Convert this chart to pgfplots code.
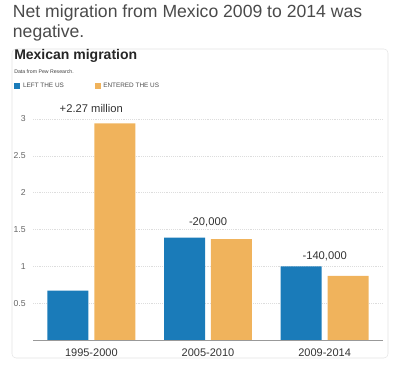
\documentclass[border=0pt]{standalone}
\usepackage{fontspec}
\setmainfont{Liberation Sans}
\usepackage{pgfplots}
\pgfplotsset{compat=1.18}
\definecolor{barblue}{HTML}{1A7BB9}
\definecolor{barorange}{HTML}{F0B35C}
\definecolor{titlegray}{HTML}{4A4A4A}
\definecolor{cardgray}{HTML}{E4E4E4}
\definecolor{gridgray}{HTML}{DDDDDD}
\definecolor{tickgray}{HTML}{666666}
\begin{document}
\begin{tikzpicture}
\useasboundingbox (0,0) rectangle (300pt,274.5pt);
\node[anchor=base west, inner sep=0, text=titlegray, font=\fontsize{13.2}{15}\selectfont] at (9.5pt,261pt) {Net migration from Mexico 2009 to 2014 was};
\node[anchor=base west, inner sep=0, text=titlegray, font=\fontsize{13.2}{15}\selectfont] at (9.5pt,246pt) {negative.};
\draw[cardgray, rounded corners=3pt] (9pt,6pt) rectangle (291pt,237.75pt);
\node[anchor=base west, inner sep=0, text=black!85, font=\bfseries\fontsize{10.5}{12}\selectfont] at (10.5pt,229.5pt) {Mexican migration};
\node[anchor=base west, inner sep=0, text=black!75, font=\fontsize{3.9}{4.5}\selectfont] at (10.5pt,219pt) {Data from Pew Research.};
\begin{axis}[
  at={(24.75pt,19.5pt)}, anchor=south west,
  scale only axis, width=262.5pt, height=176.9pt,
  xmin=-0.5, xmax=2.5, ymin=0, ymax=3.2,
  xtick={0,1,2}, xticklabels={1995-2000,2005-2010,2009-2014},
  ytick={0.5,1,1.5,2,2.5,3},
  /pgf/number format/assume math mode=true,
  yticklabel style={font=\fontsize{6.5}{7}\selectfont, text=tickgray},
  xticklabel style={font=\fontsize{8.25}{9}\selectfont, text=black!80},
  major tick length=0pt,
  axis x line*=bottom, axis y line*=left,
  y axis line style={draw=none},
  x axis line style={draw=black!40, line width=0.6pt, -},
  ymajorgrids, grid style={gridgray, densely dotted, line width=0.3pt},
  xticklabel shift=3pt, yticklabel shift=2pt,
  clip=false,
  legend style={at={(axis description cs:-0.054,1.077)}, anchor=west, legend columns=2,
    draw=none, fill=none, inner sep=0pt, font=\fontsize{4.8}{5}\selectfont, text=black!70,
    /tikz/every even column/.append style={column sep=21pt}},
  legend cell align=left,
  legend image code/.code={\fill[#1] (0pt,-2.25pt) rectangle (4.5pt,2.25pt);},
]
\addplot[ybar, fill=barblue, draw=none, bar width=30.75pt, bar shift=-17.6pt] coordinates {(0,0.67) (1,1.39) (2,1.00)};
\addlegendentry{LEFT THE US}
\addplot[ybar, fill=barorange, draw=none, bar width=30.75pt, bar shift=17.6pt] coordinates {(0,2.94) (1,1.37) (2,0.87)};
\addlegendentry{ENTERED THE US}
\node[font=\fontsize{8.4}{9}\selectfont, text=black!80] at (axis cs:0,3.14) {+2.27 million};
\node[font=\fontsize{8.4}{9}\selectfont, text=black!80] at (axis cs:1,1.59) {-20,000};
\node[font=\fontsize{8.4}{9}\selectfont, text=black!80] at (axis cs:2,1.14) {-140,000};
\end{axis}
\end{tikzpicture}
\end{document}
